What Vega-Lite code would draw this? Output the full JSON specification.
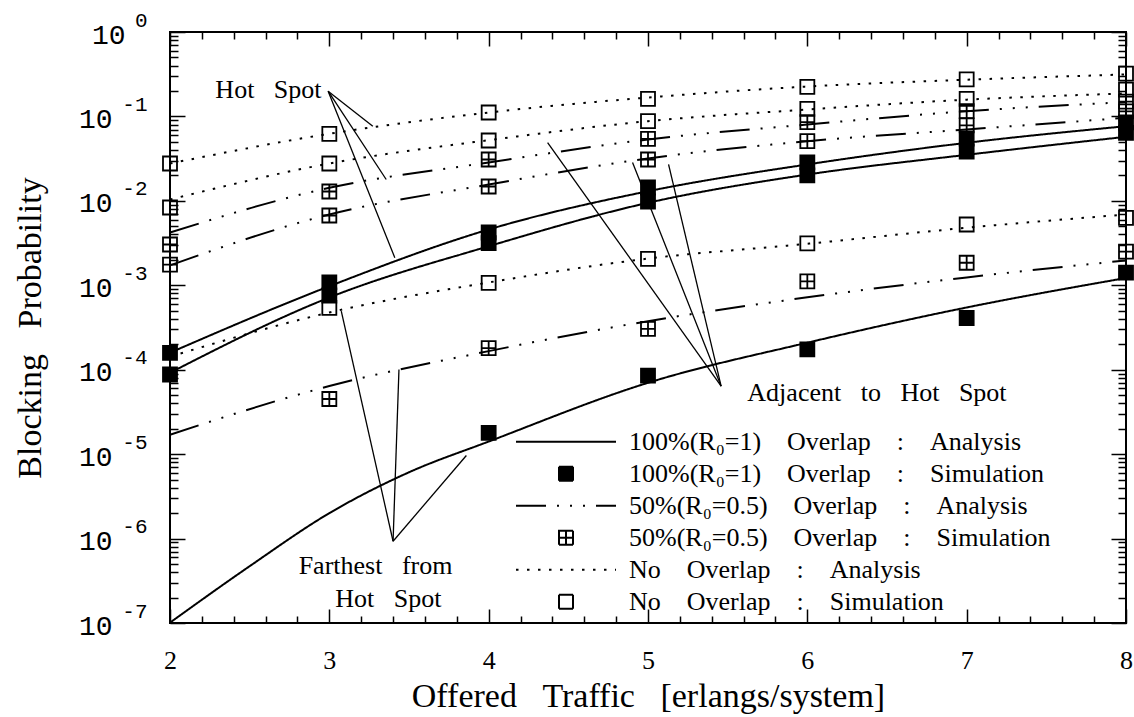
{
  "$schema": "https://vega.github.io/schema/vega-lite/v6.json",
  "width": 956,
  "height": 591,
  "autosize": {"type": "none"},
  "padding": {"left": 170, "top": 32, "right": 8, "bottom": 94},
  "background": "white",
  "config": {
    "view": {"stroke": "black", "strokeWidth": 2},
    "font": "Liberation Serif",
    "axis": {"grid": false, "domain": false, "labelFlush": false, "labelOverlap": false, "labelBound": false, "tickColor": "black", "tickWidth": 1.5, "labelColor": "black", "titleColor": "black", "titleFontWeight": "normal"},
    "legend": {"symbolSize": 10000, "symbolStrokeWidth": 2, "symbolStrokeColor": "black", "clipHeight": 31.6, "rowPadding": 0, "labelFont": "Liberation Serif", "labelFontSize": 26, "labelColor": "black", "labelOffset": 12, "labelLimit": 800, "padding": 0}
  },
  "datasets": {
    "curves": [
      {"curve": "hot100", "series": "100%(R\u2080=1) Overlap : Analysis", "x": 2, "p": 1.59e-4},
      {"curve": "hot100", "series": "100%(R\u2080=1) Overlap : Analysis", "x": 3, "p": 9.75e-4},
      {"curve": "hot100", "series": "100%(R\u2080=1) Overlap : Analysis", "x": 4, "p": 4.58e-3},
      {"curve": "hot100", "series": "100%(R\u2080=1) Overlap : Analysis", "x": 5, "p": 0.0130},
      {"curve": "hot100", "series": "100%(R\u2080=1) Overlap : Analysis", "x": 6, "p": 0.0270},
      {"curve": "hot100", "series": "100%(R\u2080=1) Overlap : Analysis", "x": 7, "p": 0.0487},
      {"curve": "hot100", "series": "100%(R\u2080=1) Overlap : Analysis", "x": 8, "p": 0.0766},
      {"curve": "adj100", "series": "100%(R\u2080=1) Overlap : Analysis", "x": 2, "p": 9.2e-5},
      {"curve": "adj100", "series": "100%(R\u2080=1) Overlap : Analysis", "x": 3, "p": 7.17e-4},
      {"curve": "adj100", "series": "100%(R\u2080=1) Overlap : Analysis", "x": 4, "p": 2.9e-3},
      {"curve": "adj100", "series": "100%(R\u2080=1) Overlap : Analysis", "x": 5, "p": 9.48e-3},
      {"curve": "adj100", "series": "100%(R\u2080=1) Overlap : Analysis", "x": 6, "p": 0.0205},
      {"curve": "adj100", "series": "100%(R\u2080=1) Overlap : Analysis", "x": 7, "p": 0.0351},
      {"curve": "adj100", "series": "100%(R\u2080=1) Overlap : Analysis", "x": 8, "p": 0.0574},
      {"curve": "far100", "series": "100%(R\u2080=1) Overlap : Analysis", "x": 2, "p": 1.01e-7},
      {"curve": "far100", "series": "100%(R\u2080=1) Overlap : Analysis", "x": 2.5, "p": 4.71e-7},
      {"curve": "far100", "series": "100%(R\u2080=1) Overlap : Analysis", "x": 3, "p": 2.0e-6},
      {"curve": "far100", "series": "100%(R\u2080=1) Overlap : Analysis", "x": 3.5, "p": 6.1e-6},
      {"curve": "far100", "series": "100%(R\u2080=1) Overlap : Analysis", "x": 4, "p": 1.41e-5},
      {"curve": "far100", "series": "100%(R\u2080=1) Overlap : Analysis", "x": 5, "p": 7.0e-5},
      {"curve": "far100", "series": "100%(R\u2080=1) Overlap : Analysis", "x": 6, "p": 2.09e-4},
      {"curve": "far100", "series": "100%(R\u2080=1) Overlap : Analysis", "x": 7, "p": 5.46e-4},
      {"curve": "far100", "series": "100%(R\u2080=1) Overlap : Analysis", "x": 8, "p": 1.22e-3},
      {"curve": "hot50", "series": "50%(R\u2080=0.5) Overlap : Analysis", "x": 2, "p": 4.22e-3},
      {"curve": "hot50", "series": "50%(R\u2080=0.5) Overlap : Analysis", "x": 3, "p": 0.01428},
      {"curve": "hot50", "series": "50%(R\u2080=0.5) Overlap : Analysis", "x": 4, "p": 0.02847},
      {"curve": "hot50", "series": "50%(R\u2080=0.5) Overlap : Analysis", "x": 5, "p": 0.0533},
      {"curve": "hot50", "series": "50%(R\u2080=0.5) Overlap : Analysis", "x": 6, "p": 0.0802},
      {"curve": "hot50", "series": "50%(R\u2080=0.5) Overlap : Analysis", "x": 7, "p": 0.1153},
      {"curve": "hot50", "series": "50%(R\u2080=0.5) Overlap : Analysis", "x": 8, "p": 0.1474},
      {"curve": "adj50", "series": "50%(R\u2080=0.5) Overlap : Analysis", "x": 2, "p": 1.72e-3},
      {"curve": "adj50", "series": "50%(R\u2080=0.5) Overlap : Analysis", "x": 3, "p": 6.9e-3},
      {"curve": "adj50", "series": "50%(R\u2080=0.5) Overlap : Analysis", "x": 4, "p": 0.0156},
      {"curve": "adj50", "series": "50%(R\u2080=0.5) Overlap : Analysis", "x": 5, "p": 0.0318},
      {"curve": "adj50", "series": "50%(R\u2080=0.5) Overlap : Analysis", "x": 6, "p": 0.0509},
      {"curve": "adj50", "series": "50%(R\u2080=0.5) Overlap : Analysis", "x": 7, "p": 0.070},
      {"curve": "adj50", "series": "50%(R\u2080=0.5) Overlap : Analysis", "x": 8, "p": 0.0963},
      {"curve": "far50", "series": "50%(R\u2080=0.5) Overlap : Analysis", "x": 2, "p": 1.7e-5},
      {"curve": "far50", "series": "50%(R\u2080=0.5) Overlap : Analysis", "x": 3, "p": 6.4e-5},
      {"curve": "far50", "series": "50%(R\u2080=0.5) Overlap : Analysis", "x": 4, "p": 1.66e-4},
      {"curve": "far50", "series": "50%(R\u2080=0.5) Overlap : Analysis", "x": 5, "p": 3.76e-4},
      {"curve": "far50", "series": "50%(R\u2080=0.5) Overlap : Analysis", "x": 6, "p": 7.2e-4},
      {"curve": "far50", "series": "50%(R\u2080=0.5) Overlap : Analysis", "x": 7, "p": 1.24e-3},
      {"curve": "far50", "series": "50%(R\u2080=0.5) Overlap : Analysis", "x": 8, "p": 1.97e-3},
      {"curve": "hot0", "series": "No Overlap : Analysis", "x": 2, "p": 0.0277},
      {"curve": "hot0", "series": "No Overlap : Analysis", "x": 3, "p": 0.0623},
      {"curve": "hot0", "series": "No Overlap : Analysis", "x": 4, "p": 0.1113},
      {"curve": "hot0", "series": "No Overlap : Analysis", "x": 5, "p": 0.1675},
      {"curve": "hot0", "series": "No Overlap : Analysis", "x": 6, "p": 0.2262},
      {"curve": "hot0", "series": "No Overlap : Analysis", "x": 7, "p": 0.272},
      {"curve": "hot0", "series": "No Overlap : Analysis", "x": 8, "p": 0.314},
      {"curve": "adj0", "series": "No Overlap : Analysis", "x": 2, "p": 0.01038},
      {"curve": "adj0", "series": "No Overlap : Analysis", "x": 3, "p": 0.0277},
      {"curve": "adj0", "series": "No Overlap : Analysis", "x": 4, "p": 0.0523},
      {"curve": "adj0", "series": "No Overlap : Analysis", "x": 5, "p": 0.0878},
      {"curve": "adj0", "series": "No Overlap : Analysis", "x": 6, "p": 0.1208},
      {"curve": "adj0", "series": "No Overlap : Analysis", "x": 7, "p": 0.158},
      {"curve": "adj0", "series": "No Overlap : Analysis", "x": 8, "p": 0.187},
      {"curve": "far0", "series": "No Overlap : Analysis", "x": 2, "p": 1.43e-4},
      {"curve": "far0", "series": "No Overlap : Analysis", "x": 3, "p": 4.76e-4},
      {"curve": "far0", "series": "No Overlap : Analysis", "x": 4, "p": 1.08e-3},
      {"curve": "far0", "series": "No Overlap : Analysis", "x": 5, "p": 2.07e-3},
      {"curve": "far0", "series": "No Overlap : Analysis", "x": 6, "p": 3.1e-3},
      {"curve": "far0", "series": "No Overlap : Analysis", "x": 7, "p": 4.8e-3},
      {"curve": "far0", "series": "No Overlap : Analysis", "x": 8, "p": 6.9e-3}
    ],
    "sims": [
      {"series": "100%(R\u2080=1) Overlap : Simulation", "x": 2, "p": 1.58e-4},
      {"series": "100%(R\u2080=1) Overlap : Simulation", "x": 3, "p": 1.08e-3},
      {"series": "100%(R\u2080=1) Overlap : Simulation", "x": 4, "p": 4.22e-3},
      {"series": "100%(R\u2080=1) Overlap : Simulation", "x": 5, "p": 0.0144},
      {"series": "100%(R\u2080=1) Overlap : Simulation", "x": 6, "p": 0.0285},
      {"series": "100%(R\u2080=1) Overlap : Simulation", "x": 7, "p": 0.0548},
      {"series": "100%(R\u2080=1) Overlap : Simulation", "x": 8, "p": 0.085},
      {"series": "100%(R\u2080=1) Overlap : Simulation", "x": 2, "p": 8.78e-5},
      {"series": "100%(R\u2080=1) Overlap : Simulation", "x": 3, "p": 7.57e-4},
      {"series": "100%(R\u2080=1) Overlap : Simulation", "x": 4, "p": 3.16e-3},
      {"series": "100%(R\u2080=1) Overlap : Simulation", "x": 5, "p": 9.83e-3},
      {"series": "100%(R\u2080=1) Overlap : Simulation", "x": 6, "p": 0.020},
      {"series": "100%(R\u2080=1) Overlap : Simulation", "x": 7, "p": 0.0384},
      {"series": "100%(R\u2080=1) Overlap : Simulation", "x": 8, "p": 0.064},
      {"series": "100%(R\u2080=1) Overlap : Simulation", "x": 4, "p": 1.79e-5},
      {"series": "100%(R\u2080=1) Overlap : Simulation", "x": 5, "p": 8.5e-5},
      {"series": "100%(R\u2080=1) Overlap : Simulation", "x": 6, "p": 1.74e-4},
      {"series": "100%(R\u2080=1) Overlap : Simulation", "x": 7, "p": 4.1e-4},
      {"series": "100%(R\u2080=1) Overlap : Simulation", "x": 8, "p": 1.41e-3},
      {"series": "50%(R\u2080=0.5) Overlap : Simulation", "x": 2, "p": 3.04e-3},
      {"series": "50%(R\u2080=0.5) Overlap : Simulation", "x": 3, "p": 0.0129},
      {"series": "50%(R\u2080=0.5) Overlap : Simulation", "x": 4, "p": 0.0309},
      {"series": "50%(R\u2080=0.5) Overlap : Simulation", "x": 5, "p": 0.0543},
      {"series": "50%(R\u2080=0.5) Overlap : Simulation", "x": 6, "p": 0.0854},
      {"series": "50%(R\u2080=0.5) Overlap : Simulation", "x": 7, "p": 0.1153},
      {"series": "50%(R\u2080=0.5) Overlap : Simulation", "x": 8, "p": 0.150},
      {"series": "50%(R\u2080=0.5) Overlap : Simulation", "x": 2, "p": 1.76e-3},
      {"series": "50%(R\u2080=0.5) Overlap : Simulation", "x": 3, "p": 6.71e-3},
      {"series": "50%(R\u2080=0.5) Overlap : Simulation", "x": 4, "p": 0.0148},
      {"series": "50%(R\u2080=0.5) Overlap : Simulation", "x": 5, "p": 0.0309},
      {"series": "50%(R\u2080=0.5) Overlap : Simulation", "x": 6, "p": 0.0509},
      {"series": "50%(R\u2080=0.5) Overlap : Simulation", "x": 7, "p": 0.0783},
      {"series": "50%(R\u2080=0.5) Overlap : Simulation", "x": 8, "p": 0.115},
      {"series": "50%(R\u2080=0.5) Overlap : Simulation", "x": 3, "p": 4.5e-5},
      {"series": "50%(R\u2080=0.5) Overlap : Simulation", "x": 4, "p": 1.8e-4},
      {"series": "50%(R\u2080=0.5) Overlap : Simulation", "x": 5, "p": 3.05e-4},
      {"series": "50%(R\u2080=0.5) Overlap : Simulation", "x": 6, "p": 1.11e-3},
      {"series": "50%(R\u2080=0.5) Overlap : Simulation", "x": 7, "p": 1.85e-3},
      {"series": "50%(R\u2080=0.5) Overlap : Simulation", "x": 8, "p": 2.5e-3},
      {"series": "No Overlap : Simulation", "x": 2, "p": 0.0277},
      {"series": "No Overlap : Simulation", "x": 3, "p": 0.0623},
      {"series": "No Overlap : Simulation", "x": 4, "p": 0.1113},
      {"series": "No Overlap : Simulation", "x": 5, "p": 0.1617},
      {"series": "No Overlap : Simulation", "x": 6, "p": 0.2244},
      {"series": "No Overlap : Simulation", "x": 7, "p": 0.274},
      {"series": "No Overlap : Simulation", "x": 8, "p": 0.322},
      {"series": "No Overlap : Simulation", "x": 2, "p": 8.34e-3},
      {"series": "No Overlap : Simulation", "x": 3, "p": 0.0277},
      {"series": "No Overlap : Simulation", "x": 4, "p": 0.0519},
      {"series": "No Overlap : Simulation", "x": 5, "p": 0.0878},
      {"series": "No Overlap : Simulation", "x": 6, "p": 0.1231},
      {"series": "No Overlap : Simulation", "x": 7, "p": 0.1617},
      {"series": "No Overlap : Simulation", "x": 8, "p": 0.208},
      {"series": "No Overlap : Simulation", "x": 3, "p": 5.4e-4},
      {"series": "No Overlap : Simulation", "x": 4, "p": 1.07e-3},
      {"series": "No Overlap : Simulation", "x": 5, "p": 2.06e-3},
      {"series": "No Overlap : Simulation", "x": 6, "p": 3.13e-3},
      {"series": "No Overlap : Simulation", "x": 7, "p": 5.25e-3},
      {"series": "No Overlap : Simulation", "x": 8, "p": 6.3e-3}
    ],
    "pointers": [
      {"x": 2.9925, "p": 0.199, "x2": 3.273, "p2": 0.0766},
      {"x": 2.9925, "p": 0.199, "x2": 3.357, "p2": 0.0179},
      {"x": 2.9925, "p": 0.199, "x2": 3.411, "p2": 2.12e-3},
      {"x": 5.459, "p": 6.38e-5, "x2": 4.37, "p2": 0.0491},
      {"x": 5.459, "p": 6.38e-5, "x2": 4.903, "p2": 0.0285},
      {"x": 5.459, "p": 6.38e-5, "x2": 5.129, "p2": 0.027},
      {"x": 3.40, "p": 9.3e-7, "x2": 3.075, "p2": 4.93e-4},
      {"x": 3.40, "p": 9.3e-7, "x2": 3.437, "p2": 1.007e-4},
      {"x": 3.40, "p": 9.3e-7, "x2": 3.860, "p2": 9.64e-6}
    ],
    "notes": [
      {"label": "Hot\u00a0\u00a0\u00a0Spot", "x": 2.618, "p": 0.203},
      {"label": "Adjacent\u00a0\u00a0\u00a0to\u00a0\u00a0\u00a0Hot\u00a0\u00a0\u00a0Spot", "x": 6.437, "p": 5.33e-5},
      {"label": "Farthest\u00a0\u00a0\u00a0from", "x": 3.29, "p": 4.71e-7},
      {"label": "Hot\u00a0\u00a0\u00a0Spot", "x": 3.37, "p": 1.95e-7}
    ]
  },
  "layer": [
    {
      "data": {"name": "curves"},
      "mark": {"type": "line", "stroke": "black", "strokeWidth": 2, "interpolate": "monotone"},
      "encoding": {
        "x": {
          "field": "x", "type": "quantitative",
          "scale": {"domain": [2, 8], "nice": false, "zero": false},
          "axis": {
            "orient": "bottom",
            "values": [2,2.2,2.4,2.6,2.8,3,3.2,3.4,3.6,3.8,4,4.2,4.4,4.6,4.8,5,5.2,5.4,5.6,5.8,6,6.2,6.4,6.6,6.8,7,7.2,7.4,7.6,7.8,8],
            "tickSize": {"condition": {"test": "abs(datum.value-round(datum.value))<0.01", "value": -14}, "value": -7},
            "labelExpr": "abs(datum.value-round(datum.value))<0.01 ? '' + round(datum.value) : ''",
            "labelFont": "Liberation Serif", "labelFontSize": 26, "labelBaseline": "middle", "labelPadding": 51,
            "title": "Offered\u00a0\u00a0\u00a0Traffic\u00a0\u00a0\u00a0[erlangs/system]",
            "titleFont": "Liberation Serif", "titleFontSize": 34, "titlePadding": -1
          }
        },
        "y": {
          "field": "p", "type": "quantitative",
          "scale": {"type": "log", "domain": [1e-7, 1], "nice": false},
          "axis": {
            "orient": "left",
            "values": [1e-7,2e-7,3e-7,4e-7,5e-7,6e-7,7e-7,8e-7,9e-7,1e-6,2e-6,3e-6,4e-6,5e-6,6e-6,7e-6,8e-6,9e-6,1e-5,2e-5,3e-5,4e-5,5e-5,6e-5,7e-5,8e-5,9e-5,1e-4,2e-4,3e-4,4e-4,5e-4,6e-4,7e-4,8e-4,9e-4,1e-3,2e-3,3e-3,4e-3,5e-3,6e-3,7e-3,8e-3,9e-3,1e-2,2e-2,3e-2,4e-2,5e-2,6e-2,7e-2,8e-2,9e-2,0.1,0.2,0.3,0.4,0.5,0.6,0.7,0.8,0.9,1],
            "tickSize": {"condition": {"test": "abs(log(datum.value)/LN10-round(log(datum.value)/LN10))<0.01", "value": -15}, "value": -8},
            "labelExpr": "abs(log(datum.value)/LN10-round(log(datum.value)/LN10))<0.01 && datum.value < 0.5 ? '10' : ''",
            "labelFont": "Liberation Mono", "labelFontSize": 28, "labelBaseline": "middle", "labelOffset": 3,
            "labelPadding": 73,
            "title": "Blocking\u00a0\u00a0\u00a0Probability",
            "titleFont": "Liberation Serif", "titleFontSize": 34, "titlePadding": 31
          }
        },
        "detail": {"field": "curve"},
        "strokeDash": {
          "field": "series", "type": "nominal",
          "scale": {
            "domain": ["100%(R\u2080=1) Overlap : Analysis", "100%(R\u2080=1) Overlap : Simulation", "50%(R\u2080=0.5) Overlap : Analysis", "50%(R\u2080=0.5) Overlap : Simulation", "No Overlap : Analysis", "No Overlap : Simulation"],
            "range": [[1, 0], [1, 0], [30, 11, 2, 11, 2, 11, 2, 11], [1, 0], [2.5, 8.5], [1, 0]]
          },
          "legend": {"title": null, "orient": "none", "legendX": 345, "legendY": 394, "labelExpr": "join(split(datum.label, ' '), '\u00a0\u00a0\u00a0\u00a0')", "encode": {"symbols": {"update": {"stroke": {"value": "black"}, "strokeWidth": {"value": 2}}}}}
        }
      }
    },
    {
      "data": {"name": "sims"},
      "mark": {"type": "point", "stroke": "black", "strokeWidth": 1.8, "size": 10000, "opacity": 1},
      "encoding": {
        "x": {
          "field": "x", "type": "quantitative",
          "scale": {"domain": [2, 8], "nice": false, "zero": false},
          "axis": {
            "orient": "top",
            "values": [2,2.2,2.4,2.6,2.8,3,3.2,3.4,3.6,3.8,4,4.2,4.4,4.6,4.8,5,5.2,5.4,5.6,5.8,6,6.2,6.4,6.6,6.8,7,7.2,7.4,7.6,7.8,8],
            "tickSize": {"condition": {"test": "abs(datum.value-round(datum.value))<0.01", "value": -14}, "value": -7},
            "labels": false, "title": null
          }
        },
        "y": {
          "field": "p", "type": "quantitative",
          "scale": {"type": "log", "domain": [1e-7, 1], "nice": false},
          "axis": {
            "orient": "left",
            "values": [1e-7, 1e-6, 1e-5, 1e-4, 1e-3, 1e-2, 0.1, 1],
            "ticks": false,
            "labelExpr": "'' + round(log(datum.value)/LN10)",
            "labelFont": "Liberation Mono", "labelFontSize": 21, "labelBaseline": "middle", "labelOffset": -12, "labelPadding": 23,
            "title": null
          }
        },
        "shape": {
          "field": "series", "type": "nominal",
          "scale": {
            "domain": ["100%(R\u2080=1) Overlap : Analysis", "100%(R\u2080=1) Overlap : Simulation", "50%(R\u2080=0.5) Overlap : Analysis", "50%(R\u2080=0.5) Overlap : Simulation", "No Overlap : Analysis", "No Overlap : Simulation"],
            "range": ["stroke", "M-0.14,-0.14H0.14V0.14H-0.14Z", "stroke", "M-0.14,-0.14H0.14V0.14H-0.14Z M0,-0.14V0.14 M-0.14,0H0.14", "stroke", "M-0.14,-0.14H0.14V0.14H-0.14Z"]
          },
          "legend": {"title": null, "orient": "none", "legendX": 345, "legendY": 394, "labelExpr": "join(split(datum.label, ' '), '\u00a0\u00a0\u00a0\u00a0')", "encode": {"symbols": {"update": {"stroke": {"value": "black"}, "strokeWidth": {"value": 2}}}}}
        },
        "fill": {
          "field": "series", "type": "nominal",
          "scale": {
            "domain": ["100%(R\u2080=1) Overlap : Analysis", "100%(R\u2080=1) Overlap : Simulation", "50%(R\u2080=0.5) Overlap : Analysis", "50%(R\u2080=0.5) Overlap : Simulation", "No Overlap : Analysis", "No Overlap : Simulation"],
            "range": ["transparent", "black", "transparent", "transparent", "transparent", "transparent"]
          },
          "legend": {"title": null, "orient": "none", "legendX": 345, "legendY": 394, "labelExpr": "join(split(datum.label, ' '), '\u00a0\u00a0\u00a0\u00a0')", "encode": {"symbols": {"update": {"stroke": {"value": "black"}, "strokeWidth": {"value": 2}}}}}
        }
      }
    },
    {
      "data": {"name": "pointers"},
      "mark": {"type": "rule", "stroke": "black", "strokeWidth": 1.3},
      "encoding": {
        "x": {"field": "x", "type": "quantitative", "scale": {"domain": [2, 8], "nice": false, "zero": false}, "axis": null},
        "y": {
          "field": "p", "type": "quantitative",
          "scale": {"type": "log", "domain": [1e-7, 1], "nice": false},
          "axis": {
            "orient": "right",
            "values": [1e-7,2e-7,3e-7,4e-7,5e-7,6e-7,7e-7,8e-7,9e-7,1e-6,2e-6,3e-6,4e-6,5e-6,6e-6,7e-6,8e-6,9e-6,1e-5,2e-5,3e-5,4e-5,5e-5,6e-5,7e-5,8e-5,9e-5,1e-4,2e-4,3e-4,4e-4,5e-4,6e-4,7e-4,8e-4,9e-4,1e-3,2e-3,3e-3,4e-3,5e-3,6e-3,7e-3,8e-3,9e-3,1e-2,2e-2,3e-2,4e-2,5e-2,6e-2,7e-2,8e-2,9e-2,0.1,0.2,0.3,0.4,0.5,0.6,0.7,0.8,0.9,1],
            "tickSize": {"condition": {"test": "abs(log(datum.value)/LN10-round(log(datum.value)/LN10))<0.01", "value": -15}, "value": -8},
            "labels": false, "title": null
          }
        },
        "x2": {"field": "x2"},
        "y2": {"field": "p2"}
      }
    },
    {
      "data": {"name": "notes"},
      "mark": {"type": "text", "font": "Liberation Serif", "fontSize": 26, "fill": "black", "align": "center", "baseline": "middle"},
      "encoding": {
        "x": {"field": "x", "type": "quantitative", "scale": {"domain": [2, 8], "nice": false, "zero": false}, "axis": null},
        "y": {
          "field": "p", "type": "quantitative",
          "scale": {"type": "log", "domain": [1e-7, 1], "nice": false},
          "axis": {
            "orient": "left",
            "values": [1],
            "ticks": false,
            "labelExpr": "'10'",
            "labelFont": "Liberation Mono", "labelFontSize": 28, "labelBaseline": "middle", "labelOffset": 3, "labelPadding": 45,
            "title": null
          }
        },
        "text": {"field": "label"}
      }
    }
  ],
  "resolve": {"axis": {"x": "independent", "y": "independent"}}
}
